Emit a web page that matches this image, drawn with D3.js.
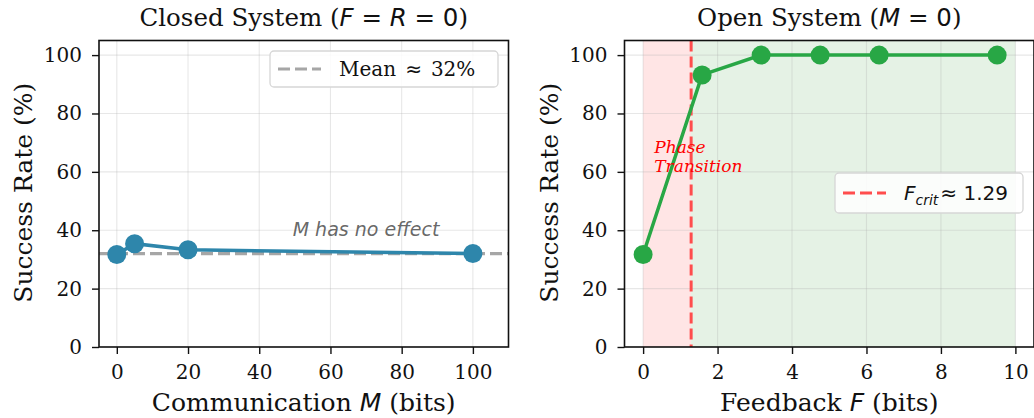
<!DOCTYPE html>
<html>
<head>
<meta charset="utf-8">
<script src="https://cdn.jsdelivr.net/npm/d3@7"></script>
<style>
	body { margin: 0; background: #fff; }
	svg { display: block; }
	.tick-label { font-family: "DejaVu Serif", serif; font-size: 20px; fill: #111; }
	.axis-title { font-family: "DejaVu Serif", serif; font-size: 25px; fill: #111; }
	.panel-title { font-family: "DejaVu Serif", serif; font-size: 24.5px; fill: #111; }
	.math { font-family: "DejaVu Sans", sans-serif; font-style: italic; }
	.math-up { font-family: "DejaVu Sans", sans-serif; }
	.grid-line { stroke: #b0b0b0; stroke-opacity: 0.3; stroke-width: 1.1; }
</style>
</head>
<body>
<div id="chart"></div>
<script>

////////////////////////////////////////////////////////////
////////////////////////// Data ////////////////////////////
////////////////////////////////////////////////////////////

var commBits = [0, 5, 20, 100];
var closedRate = [31.7, 35.4, 33.3, 32.0];
var meanRate = 32;

var feedbackBits = [0, 1.585, 3.17, 4.755, 6.34, 9.51];
var openRate = [31.7, 93.2, 100, 100, 100, 100];
var fCrit = 1.29;
var feedbackMax = 10;

var yTicks = [0, 20, 40, 60, 80, 100];
var commTicks = [0, 20, 40, 60, 80, 100];
var feedbackTicks = [0, 2, 4, 6, 8, 10];

////////////////////////////////////////////////////////////
///////////////////////// Set-up ///////////////////////////
////////////////////////////////////////////////////////////

var width = 1034,
	height = 418,
	plotTop = 40.5,
	plotBottom = 347,
	panelWidth = 409.5;

var blue = "#2E86AB",
	green = "#28A745",
	red = "#ff4d4d";

var svg = d3.select("#chart").append("svg")
	.attr("width", width)
	.attr("height", height);

var y = d3.scaleLinear().domain([0, 105]).range([plotBottom, plotTop]);

function makePanel(left, xDomain, xTicks) {
	var x = d3.scaleLinear().domain(xDomain).range([left, left + panelWidth]);
	var g = svg.append("g");
	var clipId = "clip" + Math.round(left);
	svg.append("clipPath").attr("id", clipId)
		.append("rect")
		.attr("x", left).attr("y", plotTop)
		.attr("width", panelWidth).attr("height", plotBottom - plotTop);
	var back = g.append("g").attr("clip-path", "url(#" + clipId + ")");
	var front = g.append("g").attr("clip-path", "url(#" + clipId + ")");
	return {x: x, g: g, back: back, front: front, left: left, xTicks: xTicks};
}

function drawFrame(p) {
	//Grid
	p.back.selectAll(".gx")
		.data(p.xTicks)
		.enter().append("line")
		.attr("class", "grid-line")
		.attr("x1", function(d) { return p.x(d); })
		.attr("x2", function(d) { return p.x(d); })
		.attr("y1", plotTop).attr("y2", plotBottom);
	p.back.selectAll(".gy")
		.data(yTicks)
		.enter().append("line")
		.attr("class", "grid-line")
		.attr("x1", p.left).attr("x2", p.left + panelWidth)
		.attr("y1", function(d) { return y(d); })
		.attr("y2", function(d) { return y(d); });

	//Axes
	var xAxis = p.g.append("g")
		.attr("transform", "translate(0," + plotBottom + ")")
		.call(d3.axisBottom(p.x).tickValues(p.xTicks).tickSize(7).tickPadding(11));
	var yAxis = p.g.append("g")
		.attr("transform", "translate(" + p.left + ",0)")
		.call(d3.axisLeft(y).tickValues(yTicks).tickSize(7).tickPadding(10));
	[xAxis, yAxis].forEach(function(a) {
		a.select(".domain").remove();
		a.selectAll(".tick line").attr("stroke", "#111").attr("stroke-width", 1.4);
		a.selectAll(".tick text").attr("class", "tick-label").attr("font-size", null).attr("font-family", null);
	});

	//Box
	p.g.append("rect")
		.attr("x", p.left).attr("y", plotTop)
		.attr("width", panelWidth).attr("height", plotBottom - plotTop)
		.attr("fill", "none").attr("stroke", "#111").attr("stroke-width", 1.6);

	//Y title
	p.g.append("text")
		.attr("class", "axis-title")
		.attr("transform", "translate(" + (p.left - 67) + "," + ((plotTop + plotBottom) / 2 - 1) + ")rotate(-90)")
		.attr("text-anchor", "middle")
		.text("Success Rate (%)");
}

function drawLegend(p, x0, y0, w, h, color, build) {
	var lg = p.g.append("g");
	lg.append("rect")
		.attr("x", x0).attr("y", y0)
		.attr("width", w).attr("height", h)
		.attr("rx", 4)
		.attr("fill", "#fff").attr("fill-opacity", 0.85)
		.attr("stroke", "#d6d6d6").attr("stroke-width", 1.3);
	lg.append("line")
		.attr("x1", x0 + 8).attr("x2", x0 + 51)
		.attr("y1", y0 + h / 2).attr("y2", y0 + h / 2)
		.attr("stroke", color).attr("stroke-width", 3.2)
		.attr("stroke-dasharray", "12,5");
	build(lg.append("text")
		.attr("x", x0 + 69).attr("y", y0 + h / 2)
		.attr("dy", "0.36em"));
}

////////////////////////////////////////////////////////////
////////////////////// Closed system ///////////////////////
////////////////////////////////////////////////////////////

var closedPanel = makePanel(99, [-5, 110], commTicks);
drawFrame(closedPanel);

closedPanel.front.append("line")
	.attr("x1", closedPanel.left).attr("x2", closedPanel.left + panelWidth)
	.attr("y1", y(meanRate)).attr("y2", y(meanRate))
	.attr("stroke", "#a6a6a6").attr("stroke-width", 3.2)
	.attr("stroke-dasharray", "12,5");

var closedData = commBits.map(function(d, i) { return [d, closedRate[i]]; });

closedPanel.front.append("path")
	.datum(closedData)
	.attr("fill", "none")
	.attr("stroke", blue)
	.attr("stroke-width", 3.5)
	.attr("d", d3.line().x(function(d) { return closedPanel.x(d[0]); }).y(function(d) { return y(d[1]); }));

closedPanel.front.selectAll(".dot")
	.data(closedData)
	.enter().append("circle")
	.attr("cx", function(d) { return closedPanel.x(d[0]); })
	.attr("cy", function(d) { return y(d[1]); })
	.attr("r", 9.5)
	.attr("fill", blue);

//Annotation
closedPanel.g.append("text")
	.attr("x", closedPanel.x(70)).attr("y", y(38))
	.attr("text-anchor", "middle")
	.attr("font-family", "DejaVu Sans, sans-serif")
	.attr("font-style", "italic")
	.attr("font-size", 19)
	.attr("fill", "#555")
	.attr("fill-opacity", 0.9)
	.text("M has no effect");

drawLegend(closedPanel, 270, 51, 228, 36, "#a6a6a6", function(t) {
	t.attr("class", "tick-label");
	t.append("tspan").text("Mean");
	t.append("tspan").attr("dx", 9).attr("class", "math-up").text("\u2248");
	t.append("tspan").attr("dx", 9).text("32%");
});

//Title and x title
var t1 = closedPanel.g.append("text")
	.attr("class", "panel-title")
	.attr("x", closedPanel.left + panelWidth / 2).attr("y", 26)
	.attr("text-anchor", "middle");
t1.append("tspan").text("Closed System (");
t1.append("tspan").attr("class", "math").text("F");
t1.append("tspan").attr("class", "math-up").text(" = ");
t1.append("tspan").attr("class", "math").text("R");
t1.append("tspan").attr("class", "math-up").text(" = 0");
t1.append("tspan").text(")");

var xt1 = closedPanel.g.append("text")
	.attr("class", "axis-title")
	.attr("x", closedPanel.left + panelWidth / 2).attr("y", 411)
	.attr("text-anchor", "middle");
xt1.append("tspan").text("Communication ");
xt1.append("tspan").attr("class", "math").text("M");
xt1.append("tspan").text(" (bits)");

////////////////////////////////////////////////////////////
/////////////////////// Open system ////////////////////////
////////////////////////////////////////////////////////////

var openPanel = makePanel(624.5, [-0.5, 10.5], feedbackTicks);

//Regions
openPanel.back.append("rect")
	.attr("x", openPanel.x(0)).attr("y", plotTop)
	.attr("width", openPanel.x(fCrit) - openPanel.x(0)).attr("height", plotBottom - plotTop)
	.attr("fill", "red").attr("fill-opacity", 0.1);
openPanel.back.append("rect")
	.attr("x", openPanel.x(fCrit)).attr("y", plotTop)
	.attr("width", openPanel.x(feedbackMax) - openPanel.x(fCrit)).attr("height", plotBottom - plotTop)
	.attr("fill", "green").attr("fill-opacity", 0.1);

drawFrame(openPanel);

openPanel.front.append("line")
	.attr("x1", openPanel.x(fCrit)).attr("x2", openPanel.x(fCrit))
	.attr("y1", plotTop).attr("y2", plotBottom)
	.attr("stroke", red).attr("stroke-width", 3)
	.attr("stroke-dasharray", "11,5");

var openData = feedbackBits.map(function(d, i) { return [d, openRate[i]]; });

openPanel.front.append("path")
	.datum(openData)
	.attr("fill", "none")
	.attr("stroke", green)
	.attr("stroke-width", 3.5)
	.attr("d", d3.line().x(function(d) { return openPanel.x(d[0]); }).y(function(d) { return y(d[1]); }));

openPanel.front.selectAll(".dot")
	.data(openData)
	.enter().append("circle")
	.attr("cx", function(d) { return openPanel.x(d[0]); })
	.attr("cy", function(d) { return y(d[1]); })
	.attr("r", 9.5)
	.attr("fill", green);

//Phase transition label
var pt = openPanel.g.append("text")
	.attr("font-family", "DejaVu Serif, serif")
	.attr("font-style", "italic")
	.attr("font-size", 17)
	.attr("fill", "red");
pt.append("tspan").attr("x", openPanel.x(0.3)).attr("y", y(62) - 13).text("Phase");
pt.append("tspan").attr("x", openPanel.x(0.3)).attr("dy", 19).text("Transition");

drawLegend(openPanel, 835, 173, 188, 40, red, function(t) {
	t.attr("class", "math-up").attr("font-size", 20).attr("fill", "#111");
	t.append("tspan").attr("class", "math").text("F");
	t.append("tspan").attr("class", "math").attr("font-size", 14).attr("dy", 5).text("crit");
	t.append("tspan").attr("dy", -5).attr("dx", 2).text("\u2248 1.29");
});

var t2 = openPanel.g.append("text")
	.attr("class", "panel-title")
	.attr("x", openPanel.left + panelWidth / 2).attr("y", 26)
	.attr("text-anchor", "middle");
t2.append("tspan").text("Open System (");
t2.append("tspan").attr("class", "math").text("M");
t2.append("tspan").attr("class", "math-up").text(" = 0");
t2.append("tspan").text(")");

var xt2 = openPanel.g.append("text")
	.attr("class", "axis-title")
	.attr("x", openPanel.left + panelWidth / 2).attr("y", 411)
	.attr("text-anchor", "middle");
xt2.append("tspan").text("Feedback ");
xt2.append("tspan").attr("class", "math").text("F");
xt2.append("tspan").text(" (bits)");

</script>
</body>
</html>
